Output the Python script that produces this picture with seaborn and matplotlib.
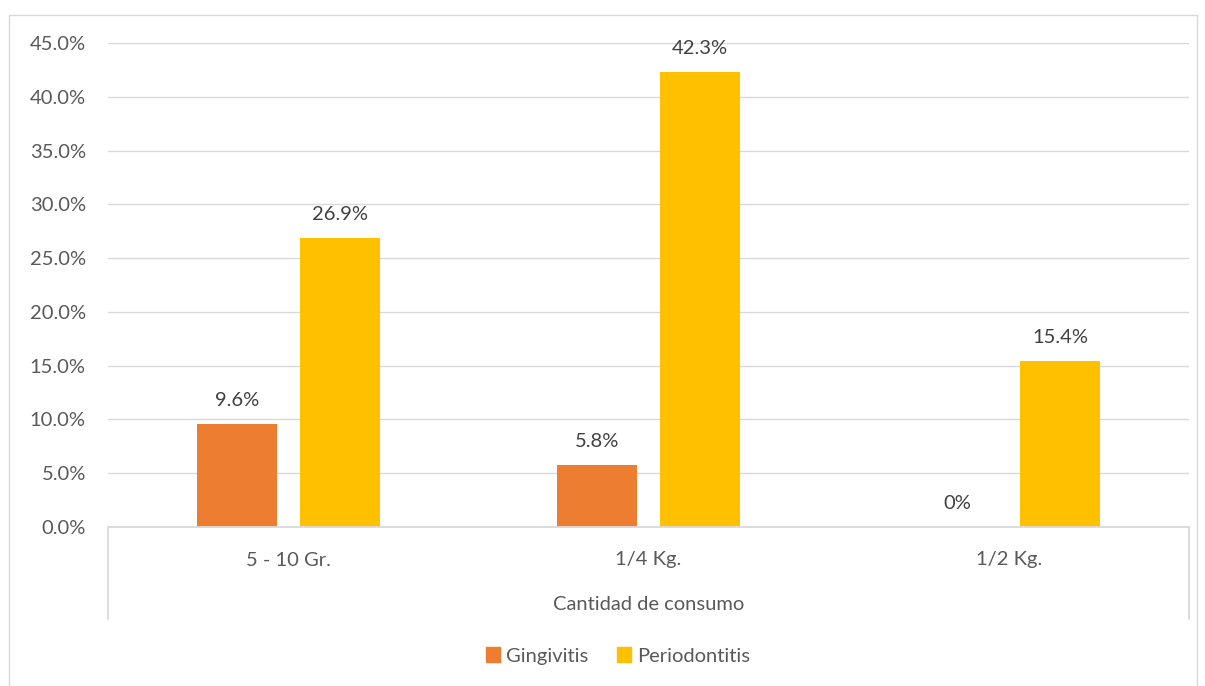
import matplotlib
matplotlib.use("Agg")
import matplotlib.pyplot as plt
import matplotlib.patches as mpatches
import seaborn as sns
import pandas as pd

# Datos del grafico
categorias = ["5 - 10 Gr.", "1/4 Kg.", "1/2 Kg."]
gingivitis = [9.6, 5.8, 0.0]
periodontitis = [26.9, 42.3, 15.4]
etiquetas_gingivitis = ["9.6%", "5.8%", "0%"]
etiquetas_periodontitis = ["26.9%", "42.3%", "15.4%"]
series = ["Gingivitis", "Periodontitis"]
colores = ["#ED7D31", "#FFC000"]
eje_x_titulo = "Cantidad de consumo"

df = pd.DataFrame({
    "categoria": categorias * 2,
    "serie": [series[0]] * 3 + [series[1]] * 3,
    "valor": gingivitis + periodontitis,
    "etiqueta": etiquetas_gingivitis + etiquetas_periodontitis,
})

sns.set_style("white")
plt.rcParams["font.family"] = ["Lato", "DejaVu Sans"]
gris = "#595959"
fs = 14.5

W, H = 1205, 686
fig = plt.figure(figsize=(W / 100, H / 100), dpi=100)
# area del grafico en pixeles: x 108-1189, y 43-527
ax = fig.add_axes([108 / W, 1 - 527 / H, (1189 - 108) / W, (527 - 43) / H])

sns.barplot(data=df, x="categoria", y="valor", hue="serie", order=categorias,
            hue_order=series, palette=colores, width=0.571, gap=0.223,
            saturation=1, legend=False, ax=ax, linewidth=0)

ax.set_xlim(-0.5, 2.5)
ax.set_ylim(0, 45)
ax.set_yticks(range(0, 50, 5))
ax.set_yticklabels([f"{v:.1f}%" for v in range(0, 50, 5)], fontsize=fs, color=gris)
ax.tick_params(axis="y", length=0, pad=16)
ax.grid(axis="y", color="#d9d9d9", linewidth=1)
ax.set_axisbelow(True)
for s in ax.spines.values():
    s.set_visible(False)
ax.set_xticks([])
ax.set_xlabel("")
ax.set_ylabel("")

# Etiquetas de datos
for cont, etiquetas in zip(ax.containers, [etiquetas_gingivitis, etiquetas_periodontitis]):
    for barra, txt in zip(cont, etiquetas):
        ax.annotate(txt, (barra.get_x() + barra.get_width() / 2, barra.get_height()),
                    xytext=(0, 17), textcoords="offset points", ha="center", va="center",
                    fontsize=fs, color="#404040")

# Eje de categorias tipo Excel
tr = ax.get_xaxis_transform()
fondo = -92 / 484
ax.plot([-0.5, 2.5], [0, 0], color="#d9d9d9", lw=1.3, transform=tr, clip_on=False)
for xb in [-0.5, 2.5]:
    ax.plot([xb, xb], [0, fondo], color="#d9d9d9", lw=1.3, transform=tr, clip_on=False)
for i, c in enumerate(categorias):
    ax.text(i, -33 / 484, c, transform=tr, ha="center", va="center", fontsize=fs, color=gris)
ax.text(1, -78 / 484, eje_x_titulo, transform=tr, ha="center", va="center",
        fontsize=fs, color=gris)

# Leyenda
handles = [mpatches.Patch(color=c, label=s) for c, s in zip(colores, series)]
fig.legend(handles=handles, loc="center", bbox_to_anchor=(618 / W, 1 - 656 / H), ncol=2,
           frameon=False, fontsize=fs, labelcolor=gris, handlelength=0.7, handleheight=0.7,
           handletextpad=0.3, columnspacing=1.4)

# Borde del area del grafico
fig.patches.append(mpatches.Rectangle((9 / W, -0.01), (1197 - 9) / W, 1 - 15 / H + 0.01,
                                      transform=fig.transFigure, fill=False,
                                      edgecolor="#d9d9d9", lw=1))

fig.savefig("out.png", dpi=100)
